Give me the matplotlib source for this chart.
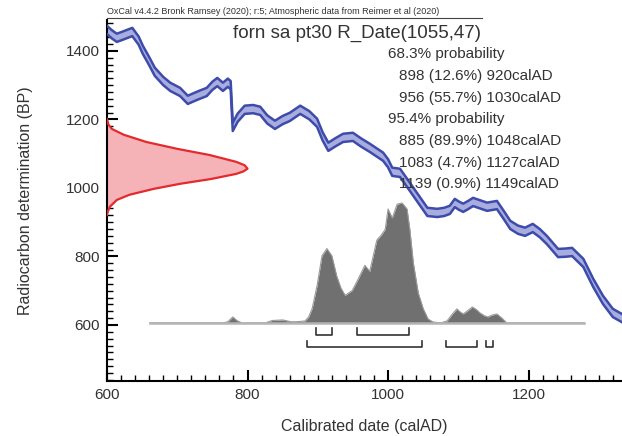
import matplotlib.pyplot as plt
import numpy as np
from matplotlib.ticker import MultipleLocator

plt.rcParams['font.family'] = ['Liberation Sans', 'DejaVu Sans']

# calibration curve (IntCal20 atmospheric)
cal_year = [600, 607, 614, 622, 636, 645, 651, 660, 668, 680, 690, 704, 715, 725, 732, 742,
            750, 757, 765, 772, 776, 779, 786, 796, 808, 818, 828, 839, 850, 860, 875,
            888, 899, 907, 915, 925, 936, 950, 962, 974, 993, 1000, 1006, 1017, 1027,
            1041, 1056, 1070, 1080, 1088, 1095, 1101, 1107, 1114, 1121, 1131, 1141, 1155,
            1165, 1174, 1185, 1195, 1206, 1216, 1226, 1242, 1252, 1262, 1278, 1292,
            1306, 1320, 1333]
cal_bp = [1461, 1448, 1438, 1444, 1455, 1430, 1403, 1370, 1339, 1312, 1295, 1280, 1257, 1266, 1272, 1280,
          1298, 1309, 1295, 1307, 1300, 1178, 1205, 1228, 1230, 1225, 1200, 1184, 1198, 1207, 1228,
          1212, 1190, 1150, 1120, 1133, 1146, 1149, 1132, 1117, 1091, 1072, 1047, 1044, 1015,
          974, 930, 927, 930, 936, 956, 948, 942, 950, 959, 952, 945, 950,
          920, 892, 878, 872, 883, 868, 848, 810, 811, 813, 781, 723,
          673, 635, 620]
cal_err = 12

# radiocarbon date R_Date(1055,47), relative probability
rc_bp = [1201, 1185, 1172, 1155, 1134, 1114, 1096, 1076, 1066, 1056, 1048, 1041,
         1026, 1012, 997, 980, 965, 945, 930, 921]
rc_prob = [0.0, 0.01, 0.035, 0.12, 0.28, 0.50, 0.73, 0.92, 0.98, 1.0, 0.97, 0.92,
           0.74, 0.52, 0.33, 0.16, 0.07, 0.02, 0.005, 0.0]

# calibrated posterior, relative probability
post_year = [661, 765, 772, 779, 785, 792, 825, 835, 850, 862, 868, 875, 882, 887, 892,
             899, 906, 913, 920, 927, 933, 939, 949, 957, 967, 974, 984, 990, 996, 1000,
             1006, 1013, 1020, 1027, 1031, 1036, 1043, 1050, 1057, 1064, 1075, 1084,
             1091, 1098, 1103, 1107, 1113, 1120, 1126, 1131, 1137, 1142, 1148, 1155,
             1162, 1169, 1279]
post_prob = [0, 0, 0.01, 0.05, 0.02, 0, 0, 0.02, 0.025, 0.01, 0.01, 0.012, 0.017, 0.05, 0.12,
             0.31, 0.56, 0.62, 0.56, 0.39, 0.29, 0.23, 0.27, 0.36, 0.48, 0.43, 0.69, 0.73, 0.78, 0.95,
             0.875, 0.99, 1.0, 0.95, 0.78, 0.5, 0.25, 0.12, 0.033, 0.008, 0, 0.017,
             0.07, 0.117, 0.09, 0.075, 0.1, 0.133, 0.11, 0.083, 0.06, 0.05, 0.065, 0.075,
             0.04, 0, 0]

# highest posterior density ranges
hpd68 = [(898, 920), (956, 1030)]
hpd95 = [(885, 1048), (1083, 1127), (1139, 1149)]

header = "OxCal v4.4.2 Bronk Ramsey (2020); r:5; Atmospheric data from Reimer et al (2020)"
title = "forn sa pt30 R_Date(1055,47)"
lines68 = ["898 (12.6%) 920calAD", "956 (55.7%) 1030calAD"]
lines95 = ["885 (89.9%) 1048calAD", "1083 (4.7%) 1127calAD", "1139 (0.9%) 1149calAD"]

W, H = 622, 436
fig = plt.figure(figsize=(W / 100, H / 100), dpi=100)
ax = fig.add_axes([107 / W, 1 - 381 / H, 1 - 107 / W, (381 - 20) / H])
ax.set_xlim(600, 1333)
ax.set_ylim(436.5, 1490)

# calibration curve band
cy = np.array(cal_year)
cb = np.array(cal_bp)
ax.fill_between(cy, cb - cal_err, cb + cal_err, color='#a9acdf', lw=0, zorder=2)
ax.plot(cy, cb - cal_err, color='#3d4caa', lw=1.8, zorder=3)
ax.plot(cy, cb + cal_err, color='#3d4caa', lw=1.8, zorder=3)

# radiocarbon date on the y axis
rx = 600 + np.array(rc_prob) * 200
ax.fill_betweenx(rc_bp, 600, rx, color='#f5b3b7', lw=0, zorder=2)
ax.plot(rx, rc_bp, color='#e42a2e', lw=1.6, zorder=3)

# posterior on the x axis
base = 606
py = base + np.array(post_prob) * 350
ax.fill_between(post_year, base, py, color='#707070', lw=0, zorder=4)
ax.plot(post_year, py, color='#9a9a9a', lw=0.8, zorder=4)
ax.plot([post_year[0], post_year[-1]], [base, base], color='#b4b4b4', lw=1.8, zorder=4)

# range brackets
for lo, hi in hpd68:
    ax.plot([lo, lo, hi, hi], [590, 572, 572, 590], color='#333333', lw=1.2, zorder=5)
for lo, hi in hpd95:
    ax.plot([lo, lo, hi, hi], [553, 536, 536, 553], color='#333333', lw=1.2, zorder=5)

# axes styling
for s in ['top', 'right']:
    ax.spines[s].set_visible(False)
for s in ['left', 'bottom']:
    ax.spines[s].set_linewidth(1.5)
ax.xaxis.set_major_locator(MultipleLocator(200))
ax.xaxis.set_minor_locator(MultipleLocator(20))
ax.yaxis.set_major_locator(MultipleLocator(200))
ax.yaxis.set_minor_locator(MultipleLocator(20))
ax.tick_params(which='major', direction='in', length=8, width=1.5, labelsize=11,
               labelcolor='#333333', pad=5)
ax.tick_params(which='minor', direction='in', length=4, width=1.0)
ax.set_xlabel("Calibrated date (calAD)", fontsize=11.5, color='#333333', labelpad=12)
ax.set_ylabel("Radiocarbon determination (BP)", fontsize=11.5, color='#333333', labelpad=24)

def ftext(x, y, s, **kw):
    fig.text(x / W, 1 - y / H, s, va='center', color='#333333', **kw)

ftext(107, 12, header, fontsize=6.5, ha='left')
fig.add_artist(plt.Line2D([107 / W, 482 / W], [1 - 18 / H, 1 - 18 / H], color='#444444', lw=0.8))
ftext(233, 33, title, fontsize=13.5, ha='left')
ftext(388, 54, "68.3% probability", fontsize=11, ha='left')
for i, s in enumerate(lines68):
    ftext(399, 76 + 21.7 * i, s, fontsize=11, ha='left')
ftext(388, 119, "95.4% probability", fontsize=11, ha='left')
for i, s in enumerate(lines95):
    ftext(399, 141 + 21.7 * i, s, fontsize=11, ha='left')

fig.savefig("out.png", dpi=100)
